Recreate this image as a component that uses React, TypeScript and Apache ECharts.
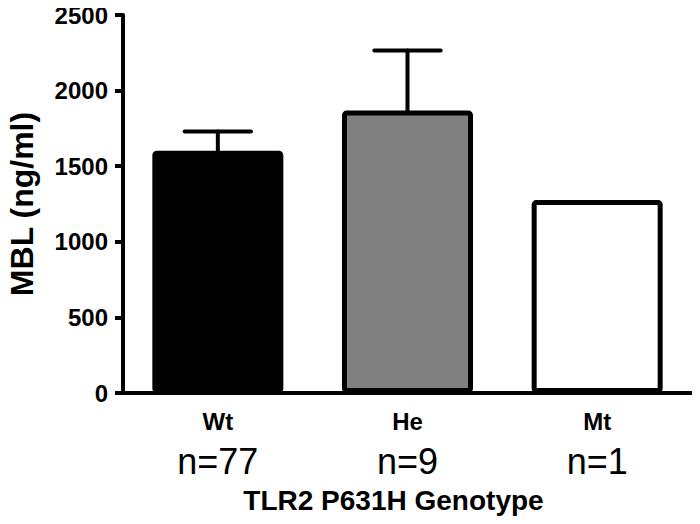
import React, { useEffect, useRef } from "react";
import * as echarts from "echarts";

const categories = ["Wt", "He", "Mt"];
const sampleSizes = ["n=77", "n=9", "n=1"];
const means = [1602, 1868, 1276];
const errorTops = [1730, 2266, null];
const barColors = ["#000000", "#808080", "#ffffff"];
const yTicks = { min: 0, max: 2500, interval: 500 };

const FONT = "Liberation Sans, Arial, Helvetica, sans-serif";

export default function App() {
  const ref = useRef<HTMLDivElement>(null);
  useEffect(() => {
    if (!ref.current) return;
    const chart = echarts.init(ref.current, undefined, { renderer: "svg" });
    chart.setOption({
      animation: false,
      backgroundColor: "#ffffff",
      grid: { left: 123, right: 8, top: 15, bottom: 131, containLabel: false, outerBoundsMode: "none" },
      xAxis: {
        type: "category",
        data: categories,
        boundaryGap: true,
        name: "TLR2 P631H Genotype",
        nameLocation: "middle",
        nameGap: 93,
        nameTextStyle: {
          fontFamily: FONT,
          fontWeight: "bold",
          fontSize: 28,
          color: "#000",
          padding: [0, 28, 0, 0],
        },
        axisLine: { lineStyle: { color: "#000", width: 4 } },
        axisTick: { alignWithLabel: true, length: 8, lineStyle: { color: "#000", width: 4 } },
        axisLabel: {
          margin: 13,
          interval: 0,
          formatter: (v: string, i: number) => `{a|${v}}\n{b|${sampleSizes[i]}}`,
          rich: {
            a: { fontFamily: FONT, fontWeight: "bold", fontSize: 24, color: "#000", lineHeight: 30 },
            b: { fontFamily: FONT, fontWeight: "normal", fontSize: 36, color: "#000", lineHeight: 50 },
          },
        },
      },
      yAxis: {
        type: "value",
        min: yTicks.min,
        max: yTicks.max,
        interval: yTicks.interval,
        name: "MBL (ng/ml)",
        nameLocation: "middle",
        nameGap: 85,
        nameRotate: 90,
        nameTextStyle: { fontFamily: FONT, fontWeight: "bold", fontSize: 32, color: "#000" },
        splitLine: { show: false },
        axisLine: { show: true, lineStyle: { color: "#000", width: 4 } },
        axisTick: { show: true, length: 8, lineStyle: { color: "#000", width: 4 } },
        axisLabel: {
          fontFamily: FONT,
          fontWeight: "bold",
          fontSize: 24,
          color: "#000",
          margin: 15,
          formatter: (v: number) => String(v),
        },
      },
      series: [
        {
          type: "bar",
          barWidth: 131,
          data: means.map((v, i) => ({
            value: v,
            itemStyle: { color: barColors[i], borderColor: "#000", borderWidth: 5, borderRadius: 2 },
          })),
          z: 2,
        },
        {
          type: "custom",
          z: 1,
          data: errorTops.map((t, i) => [i, means[i], t]),
          renderItem: (params: any, api: any) => {
            const top = api.value(2);
            if (top === null || top === undefined || isNaN(top)) return null;
            const x = api.value(0);
            const base = api.coord([x, api.value(1)]);
            const tip = api.coord([x, top]);
            const w = api.size([1, 0])[0] * 0.35;
            const style = { stroke: "#000", lineWidth: 4, lineCap: "round" };
            return {
              type: "group",
              children: [
                { type: "line", shape: { x1: base[0], y1: base[1], x2: tip[0], y2: tip[1] }, style },
                { type: "line", shape: { x1: tip[0] - w / 2, y1: tip[1], x2: tip[0] + w / 2, y2: tip[1] }, style },
              ],
            };
          },
        },
      ],
    });
    return () => chart.dispose();
  }, []);
  return <div ref={ref} style={{ width: 700, height: 524, margin: -8 }} />;
}
